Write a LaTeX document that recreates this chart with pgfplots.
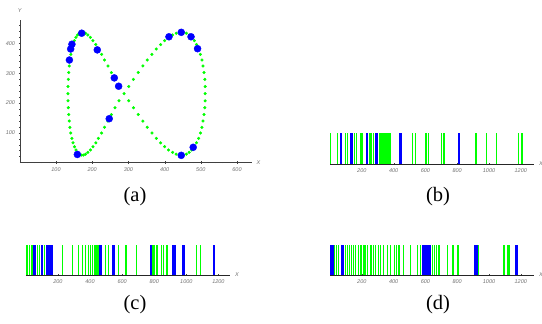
\documentclass[border=0pt]{standalone}
\usepackage{fontspec}
\setmainfont{Liberation Serif}
\newfontfamily\tickfont{Liberation Sans}
\usepackage{pgfplots}
\pgfplotsset{compat=1.18}
\definecolor{pgreen}{RGB}{0,255,0}
\definecolor{pblue}{RGB}{0,0,255}
\definecolor{tickgray}{RGB}{110,110,110}
\pgfplotsset{
  mma/.style={
    scale only axis, anchor=south west, clip=false,
    tick style={draw=black!75},
    tick align=inside,
    major tick length=2.5pt, minor tick length=1.3pt,
    ticklabel style={font=\tickfont\itshape\fontsize{5.5}{6}\selectfont, text=tickgray},
    /pgf/number format/assume math mode=true,
    /pgf/number format/1000 sep={},
  },
  barc/.style={mma, axis x line=bottom, axis y line=left, ymin=0, ymax=1, ytick=\empty,
    xmin=0, xtick={200,400,...,1200}, major tick length=2pt},
  gbar/.style={ycomb, draw=pgreen, line width=1.25pt, no marks},
  bbar/.style={ycomb, draw=pblue, line width=1.4pt, no marks},
}
\begin{document}
\begin{tikzpicture}
% ---------- (a)
\begin{axis}[mma, at={(19.8pt,161.5pt)}, width=231.7pt, height=142.4pt,
  xmin=0, xmax=640, ymin=0, ymax=478, axis lines=left,
  xtick={100,200,...,600}, ytick={100,200,300,400},
  minor xtick={20,40,...,640}, minor ytick={20,40,...,460},
  axis line style={-, draw=black!75}]
\addplot[only marks, mark=*, mark size=1.35pt, color=pgreen] coordinates {
(288,231) (301,255) (314,279) (327,302) (340,324) (352,344) (365,363) (377,381) (389,396) (400,409) (411,420) (422,428) (432,434) (442,437) (451,437) (460,434) (468,428) (475,420) (482,409) (488,396) (494,381) (499,363) (503,344) (506,324) (509,302) (511,279) (512,255) (512,231)
(512,207) (511,184) (509,161) (506,139) (503,118) (499,99) (494,81) (488,66) (482,53) (475,42) (468,34) (460,28) (451,25) (442,25) (432,28) (422,34) (411,42) (400,53) (389,66) (377,81) (365,99) (352,118) (340,139) (327,161) (314,184) (301,207)
(274,255) (263,279) (253,302) (243.5,324) (234,344) (226,363) (217,381) (210,396) (202,409) (195,420) (188,428) (181.5,434) (175.5,437) (170,437) (164,434) (159.5,428) (155,420) (151,409) (147,396) (144,381) (141,363) (138.5,344) (136.6,324) (135,302) (134,279) (133.2,255) (133,231)
(133.2,207) (134,184) (135,161) (136.6,139) (138.5,118) (141,99) (144,81) (147,66) (151,53) (155,42) (159.5,34) (164,28) (170,25) (175.5,25) (181.5,28) (188,34) (195,42) (202,53) (210,66) (217,81) (226,99) (234,118) (243.5,139) (253,161) (263,184) (274,207)
};
\addplot[only marks, mark=*, mark size=3.5pt, color=pblue] coordinates {
(171,434) (144,397) (140.5,381) (137,344) (214,378) (261,284) (273,256) (247,147) (159,27)
(412,422) (446,437) (473,422) (491,382) (479,51) (446,24)
};
\node[font=\tickfont\itshape\fontsize{5.5}{6}\selectfont, text=tickgray, anchor=west, inner sep=0pt, xshift=5pt] at (rel axis cs:1,0) {X};
\node[font=\tickfont\itshape\fontsize{5.5}{6}\selectfont, text=tickgray, anchor=south, inner sep=0pt, yshift=7pt] at (rel axis cs:0,1) {Y};
\end{axis}
% ---------- (b)
\begin{axis}[barc, at={(330pt,160pt)}, width=204pt, height=31pt, xmax=1283,
  x axis line style={-, draw=black!85}, y axis line style={-, draw=gray}]
\addplot[gbar] coordinates {(3,1) (48,1) (97,1) (108,1) (152,1) (166,1) (195,1) (206,1) (252,1) (262,1) (272,1) (310,1) (320,1) (328,1) (336,1) (342,1) (348,1) (354,1) (360,1) (366,1) (372,1) (377,1) (518,1) (537,1) (604,1) (621,1) (700,1) (717,1) (919,1) (982,1) (1045,1) (1187,1) (1208,1)};
\addplot[bbar] coordinates {(66,1) (74,1) (130,1) (138,1) (228,1) (237,1) (290,1) (298,1) (441,1) (448,1) (810,1) (816,1)};
\node[font=\tickfont\itshape\fontsize{5.5}{6}\selectfont, text=tickgray, anchor=west, inner sep=0pt, xshift=5pt] at (rel axis cs:1,0) {X};
\end{axis}
% ---------- (c)
\begin{axis}[barc, at={(25.8pt,49pt)}, width=204.2pt, height=30pt, xmax=1272,
  x axis line style={-, draw=black!85}, y axis line style={-, draw=gray}]
\addplot[gbar] coordinates {(3,1) (11,1) (24,1) (38,1) (73,1) (86,1) (115,1) (127,1) (230,1) (291,1) (328,1) (351,1) (372,1) (389,1) (405,1) (417,1) (431,1) (443,1) (453,1) (495,1) (515,1) (579,1) (624,1) (690,1) (789,1) (796,1) (804,1) (818,1) (847,1) (857,1) (879,1) (1064,1) (1086,1)};
\addplot[bbar] coordinates {(50,1) (56,1) (62,1) (96,1) (102,1) (133,1) (139,1) (145,1) (151,1) (157,1) (162,1) (458,1) (464,1) (470,1) (543,1) (550,1) (776,1) (781,1) (918,1) (924,1) (930,1) (978,1) (985,1) (1170,1) (1176,1)};
\node[font=\tickfont\itshape\fontsize{5.5}{6}\selectfont, text=tickgray, anchor=west, inner sep=0pt, xshift=5pt] at (rel axis cs:1,0) {X};
\end{axis}
% ---------- (d)
\begin{axis}[barc, at={(330pt,49pt)}, width=204pt, height=30pt, xmax=1283,
  x axis line style={-, draw=black!85}, y axis line style={-, draw=gray}]
\addplot[gbar] coordinates {(27,1) (40,1) (52,1) (99,1) (111,1) (124,1) (136,1) (149,1) (161,1) (178,1) (195,1) (212,1) (220,1) (237,1) (258,1) (275,1) (287,1) (304,1) (317,1) (338,1) (363,1) (379,1) (405,1) (417,1) (434,1) (463,1) (505,1) (551,1) (568,1) (633,1) (644,1) (656,1) (670,1) (684,1) (690,1) (738,1) (774,1) (803,1) (808,1) (931,1) (1094,1) (1115,1) (1126,1)};
\addplot[bbar] coordinates {(6,1) (12,1) (18,1) (74,1) (80,1) (86,1) (582,1) (588,1) (594,1) (600,1) (606,1) (612,1) (618,1) (624,1) (630,1) (907,1) (913,1) (919,1) (925,1) (1166,1) (1172,1) (1178,1)};
\node[font=\tickfont\itshape\fontsize{5.5}{6}\selectfont, text=tickgray, anchor=west, inner sep=0pt, xshift=5pt] at (rel axis cs:1,0) {X};
\end{axis}
% ---------- captions
\node[font=\fontsize{20.5}{24}\selectfont] at (135pt,127pt) {(a)};
\node[font=\fontsize{20.5}{24}\selectfont] at (438pt,127pt) {(b)};
\node[font=\fontsize{20.5}{24}\selectfont] at (135pt,19pt) {(c)};
\node[font=\fontsize{20.5}{24}\selectfont] at (438pt,19pt) {(d)};
\pgfresetboundingbox
\useasboundingbox (0,0) rectangle (542pt,324pt);
\end{tikzpicture}
\end{document}
